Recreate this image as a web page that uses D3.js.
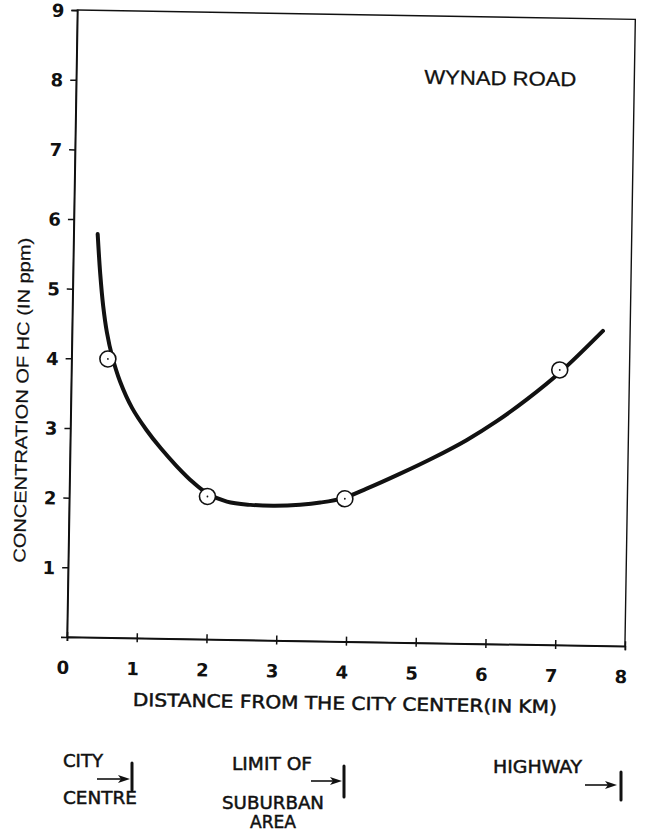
<!DOCTYPE html>
<html>
<head>
<meta charset="utf-8">
<script src="https://cdn.jsdelivr.net/npm/d3@7"></script>
<style>
  html, body { margin: 0; padding: 0; background: #fff; }
  svg { display: block; }
</style>
</head>
<body>
<script>
// Measured HC concentration along Wynad Road
const observedKm = [0.52, 1.98, 3.95, 7.0];
const observedHC = [4.0, 2.05, 2.05, 3.95];

// Smoothed trend curve through the measurements
const trendKm = [0.344, 0.39, 0.44, 0.50, 0.58, 0.70, 0.88, 1.09, 1.30, 1.53, 1.77, 1.97, 2.26, 2.6, 2.95, 3.31, 3.6, 3.93, 4.26, 4.73, 5.21, 5.68, 6.11, 6.55, 7.01, 7.61];
const trendHC = [5.79, 5.22, 4.76, 4.38, 4.04, 3.68, 3.30, 2.99, 2.73, 2.48, 2.25, 2.10, 1.98, 1.94, 1.935, 1.955, 1.99, 2.06, 2.20, 2.42, 2.66, 2.92, 3.20, 3.53, 3.92, 4.52];

const xTicks = [0, 1, 2, 3, 4, 5, 6, 7, 8];
const yTicks = [1, 2, 3, 4, 5, 6, 7, 8, 9];

const titleText = "WYNAD ROAD";
const xTitle = "DISTANCE FROM THE CITY CENTER(IN KM)";
const yTitle = "CONCENTRATION OF HC (IN ppm)";

// Landmarks marked under the chart
const landmarkLines = [
  ["CITY", "CENTRE"],
  ["LIMIT OF", "SUBURBAN", "AREA"],
  ["HIGHWAY"]
];

const W = 645, H = 831;
const plotW = 558, plotH = 627;
const tilt = 0.95;

const svg = d3.select("body").append("svg")
  .attr("width", W).attr("height", H)
  .attr("viewBox", `0 0 ${W} ${H}`);

svg.append("rect").attr("width", W).attr("height", H).attr("fill", "#fff");

const x = d3.scaleLinear().domain([0, 8]).range([0, plotW]);
const y = d3.scaleLinear().domain([0, 9]).range([0, -plotH]);

const g = svg.append("g")
  .attr("transform", `translate(67,637) rotate(${tilt})`);

const ink = "#111";
const numFont = "'DejaVu Sans', sans-serif";
const condFont = "'DejaVu Sans Condensed', 'DejaVu Sans', sans-serif";
const helv = "'Liberation Sans', Arial, sans-serif";

// Medium-weight lettering: regular glyphs with a thin outline
function medium(sel, size, w = 0.45) {
  return sel.attr("fill", ink).attr("stroke", ink).attr("stroke-width", w)
    .style("font-family", condFont).style("font-size", size + "px");
}

// Frame
g.append("rect")
  .attr("x", 0).attr("y", -plotH)
  .attr("width", plotW).attr("height", plotH)
  .attr("fill", "none").attr("stroke", ink).attr("stroke-width", 1.4);

// X axis
const xAxis = g.append("g")
  .call(d3.axisBottom(x).tickValues(xTicks).tickSize(4).tickFormat(d3.format("d")));
xAxis.select(".domain").attr("stroke", ink).attr("stroke-width", 1.6);
xAxis.selectAll(".tick line").attr("y1", -5).attr("y2", 4).attr("stroke", ink).attr("stroke-width", 1.5);
xAxis.selectAll(".tick text")
  .attr("y", 37).attr("dy", 0).attr("dx", -4)
  .attr("fill", ink)
  .style("font-family", numFont).style("font-weight", "bold").style("font-size", "18px");

// Y axis
const yAxis = g.append("g")
  .call(d3.axisLeft(y).tickValues(yTicks).tickSize(6).tickFormat(d3.format("d")));
yAxis.select(".domain").attr("stroke", ink).attr("stroke-width", 1.6);
yAxis.selectAll(".tick line").attr("stroke", ink).attr("stroke-width", 1.5);
yAxis.selectAll(".tick text")
  .attr("x", -13).attr("dy", "0.36em")
  .attr("fill", ink)
  .style("font-family", numFont).style("font-weight", "bold").style("font-size", "18px");

// Trend curve
const trend = trendKm.map((k, i) => [k, trendHC[i]]);
g.append("path")
  .datum(trend)
  .attr("fill", "none")
  .attr("stroke", ink)
  .attr("stroke-width", 4)
  .attr("stroke-linecap", "round")
  .attr("stroke-linejoin", "round")
  .attr("d", d3.line().x(d => x(d[0])).y(d => y(d[1])).curve(d3.curveCatmullRom.alpha(0.5)));

// Observation markers
const obs = observedKm.map((k, i) => [k, observedHC[i]]);
const marks = g.selectAll(".obs").data(obs).join("g")
  .attr("class", "obs")
  .attr("transform", d => `translate(${x(d[0])},${y(d[1])})`);
marks.append("circle").attr("r", 8).attr("fill", "#fff").attr("stroke", ink).attr("stroke-width", 1.6);
marks.append("circle").attr("r", 0.9).attr("fill", ink);

// Chart title
g.append("text")
  .attr("x", 424).attr("y", -559)
  .attr("text-anchor", "middle")
  .attr("textLength", 152).attr("lengthAdjust", "spacingAndGlyphs")
  .attr("fill", ink).attr("stroke", ink).attr("stroke-width", 0.3)
  .style("font-family", helv)
  .style("font-size", "20px")
  .text(titleText);

// Axis titles
medium(g.append("text"), 18)
  .attr("x", 279).attr("y", 68)
  .attr("text-anchor", "middle")
  .attr("textLength", 424).attr("lengthAdjust", "spacingAndGlyphs")
  .text(xTitle);

g.append("text")
  .attr("transform", "translate(-43,-236) rotate(-90)")
  .attr("text-anchor", "middle")
  .attr("textLength", 325).attr("lengthAdjust", "spacingAndGlyphs")
  .attr("fill", ink).attr("stroke", ink).attr("stroke-width", 0.2)
  .style("font-family", helv)
  .style("font-size", "17px")
  .text(yTitle);

// Landmark annotations: text rows, then an arrow pointing at a bar
const landmarkLayout = [
  { rows: [[63, 767, 40], [63, 804, 74]], arrow: [97, 130, 779], bar: [132, 763, 790] },
  { rows: [[232, 770, 80], [222, 809, 102], [250, 828, 46]], arrow: [311, 342, 781], bar: [344, 766, 797] },
  { rows: [[493, 773, 89]], arrow: [585, 617, 785], bar: [621, 772, 800] }
];

const ann = svg.append("g");
landmarkLines.forEach((lines, i) => {
  const L = landmarkLayout[i];
  lines.forEach((t, j) => {
    const [tx, ty, tw] = L.rows[j];
    medium(ann.append("text"), 18)
      .attr("x", tx).attr("y", ty)
      .attr("textLength", tw).attr("lengthAdjust", "spacingAndGlyphs")
      .text(t);
  });
  const [ax0, ax1, ay] = L.arrow;
  ann.append("line")
    .attr("x1", ax0).attr("x2", ax1 - 8).attr("y1", ay).attr("y2", ay)
    .attr("stroke", ink).attr("stroke-width", 1.6);
  ann.append("path")
    .attr("d", `M${ax1},${ay} L${ax1 - 12},${ay - 4} L${ax1 - 9},${ay} L${ax1 - 12},${ay + 4} Z`)
    .attr("fill", ink);
  const [bx, by0, by1] = L.bar;
  ann.append("line")
    .attr("x1", bx).attr("x2", bx).attr("y1", by0).attr("y2", by1)
    .attr("stroke", ink).attr("stroke-width", 3).attr("stroke-linecap", "round");
});
</script>
</body>
</html>
